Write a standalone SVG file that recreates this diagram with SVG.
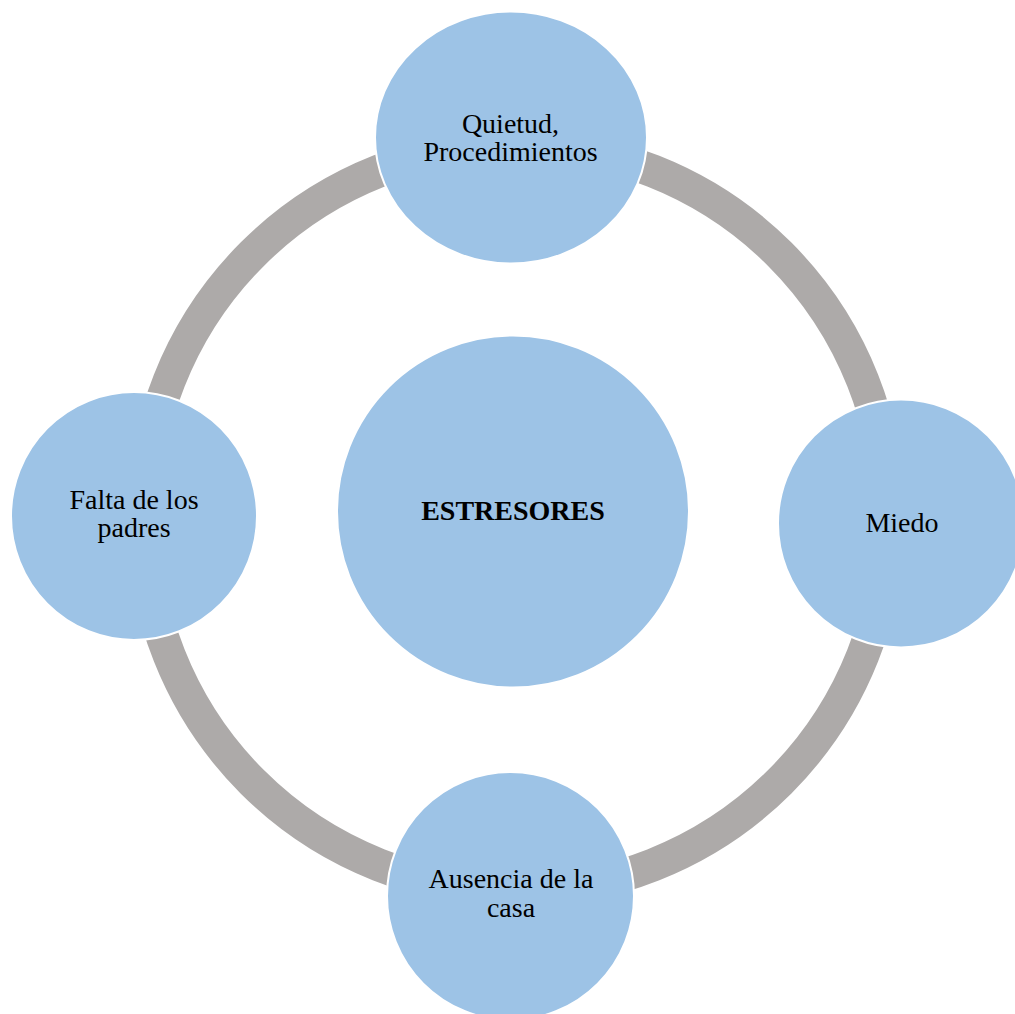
<svg xmlns="http://www.w3.org/2000/svg" width="1015" height="1014" viewBox="0 0 1015 1014">
<style>
.node{fill:#9DC3E6;stroke:#FFFFFF;stroke-width:2}
.ring{fill:none;stroke:#ADAAA9;stroke-width:33}
.lbl{font-family:"Liberation Serif","Times New Roman",serif;font-size:28px;fill:#000000;text-anchor:middle}
.bold{font-weight:bold}
</style>
<rect width="1015" height="1014" fill="#FFFFFF"/>
<g id="connectors">
<circle class="ring" cx="516" cy="518" r="373"/>
</g>
<g id="node-center">
<circle class="node" cx="513" cy="511.5" r="176"/>
<text class="lbl bold" x="513" y="520">ESTRESORES</text>
</g>
<g id="node-top">
<ellipse class="node" cx="511" cy="137.5" rx="136" ry="126"/>
<text class="lbl" x="510.5" y="133">Quietud,</text>
<text class="lbl" x="510.5" y="161">Procedimientos</text>
</g>
<g id="node-right">
<ellipse class="node" cx="901" cy="523.5" rx="123" ry="124"/>
<text class="lbl" x="902" y="532">Miedo</text>
</g>
<g id="node-bottom">
<ellipse class="node" cx="510.5" cy="896" rx="123.5" ry="124"/>
<text class="lbl" x="511" y="888">Ausencia de la</text>
<text class="lbl" x="511" y="917">casa</text>
</g>
<g id="node-left">
<ellipse class="node" cx="134" cy="516" rx="123" ry="124"/>
<text class="lbl" x="134" y="509">Falta de los</text>
<text class="lbl" x="134" y="537">padres</text>
</g>
</svg>
